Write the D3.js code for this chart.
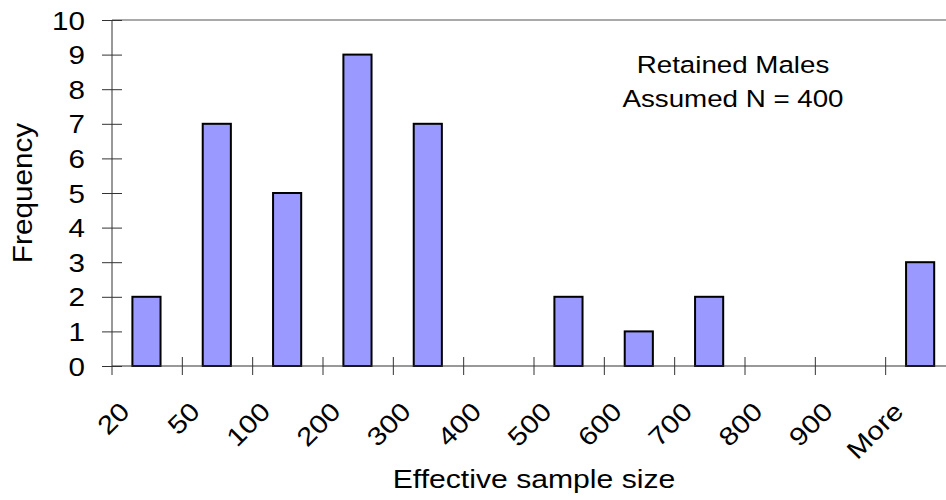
<!DOCTYPE html>
<html>
<head>
<meta charset="utf-8">
<script src="https://cdn.jsdelivr.net/npm/d3@7"></script>
<style>
  body { margin: 0; background: #fff; }
  svg { display: block; font-family: "Liberation Sans", Arial, sans-serif; }
</style>
</head>
<body>
<svg id="chart"></svg>
<script>
// histogram bins and counts
var bins = ["20", "50", "100", "200", "300", "400", "500", "600", "700", "800", "900", "More"];
var frequency = [2, 7, 5, 9, 7, 0, 2, 1, 2, 0, 0, 3];
var yTicks = [0, 1, 2, 3, 4, 5, 6, 7, 8, 9, 10];
var note = ["Retained Males", "Assumed N = 400"];

var width = 946, height = 500;
// plot area runs a little past the right edge, like the original
var margin = {top: 20, left: 112, plotRight: 956, bottom: 366};
var sx = 1.16; // the original font is a bit wider than Arial

var svg = d3.select("#chart").attr("width", width).attr("height", height);

var x = d3.scaleBand()
    .domain(bins)
    .range([margin.left, margin.plotRight])
    .padding(0);

var y = d3.scaleLinear()
    .domain([0, 10])
    .range([margin.bottom, margin.top]);

var data = bins.map(function(b, i) { return {bin: b, n: frequency[i]}; });

/* grey border on top of the plot area */
svg.append("line")
    .attr("x1", margin.left).attr("x2", margin.plotRight)
    .attr("y1", y(10)).attr("y2", y(10))
    .attr("stroke", "#8c8c8c").attr("stroke-width", 1.5);

/* bars */
svg.selectAll(".bar")
    .data(data)
    .enter()
    .append("rect")
    .attr("class", "bar")
    .attr("x", function(d) { return x(d.bin) + x.bandwidth() * 0.29; })
    .attr("width", x.bandwidth() * 0.4)
    .attr("y", function(d) { return y(d.n); })
    .attr("height", function(d) { return y(0) - y(d.n); })
    .attr("fill", "#9999ff")
    .attr("stroke", "#000")
    .attr("stroke-width", 2)
    .style("display", function(d) { return d.n > 0 ? null : "none"; });

/* y axis with crossing ticks */
var yAxis = svg.append("g")
    .attr("transform", "translate(" + margin.left + ",0)")
    .call(d3.axisLeft(y).tickValues(yTicks).tickFormat(d3.format("d")).tickSizeOuter(0));

yAxis.select(".domain").remove();
yAxis.selectAll(".tick line")
    .attr("x1", -10).attr("x2", 10)
    .attr("stroke", "#333");
yAxis.selectAll(".tick text")
    .attr("x", null).attr("dy", null)
    .attr("font-size", 25.5)
    .attr("fill", "#000")
    .attr("text-anchor", "end")
    .attr("transform", "translate(-27,9) scale(" + sx + ",1)");

svg.append("line")
    .attr("x1", margin.left).attr("x2", margin.left)
    .attr("y1", y(10)).attr("y2", y(0) + 9)
    .attr("stroke", "#333");

/* x axis: line, ticks between the bins, rotated labels */
svg.append("line")
    .attr("x1", margin.left).attr("x2", margin.plotRight)
    .attr("y1", y(0)).attr("y2", y(0))
    .attr("stroke", "#333");

var edges = bins.map(function(b) { return x(b); }).concat([margin.plotRight]);
svg.selectAll(".xtick")
    .data(edges.slice(1))
    .enter()
    .append("line")
    .attr("class", "xtick")
    .attr("x1", function(d) { return d; }).attr("x2", function(d) { return d; })
    .attr("y1", y(0) - 9).attr("y2", y(0) + 9)
    .attr("stroke", "#333");

svg.selectAll(".xlabel")
    .data(bins)
    .enter()
    .append("text")
    .attr("class", "xlabel")
    .attr("text-anchor", "end")
    .attr("font-size", 25.5)
    .attr("transform", function(d) {
      var cx = x(d) + x.bandwidth() / 2 - 16;
      return "translate(" + cx + "," + (y(0) + 47) + ") rotate(-45) scale(" + sx + ",1)";
    })
    .text(function(d) { return d; });

/* axis titles */
svg.append("text")
    .attr("text-anchor", "middle")
    .attr("font-size", 26)
    .attr("transform", "translate(" + ((margin.left + margin.plotRight) / 2) + ",488) scale(" + sx + ",1)")
    .text("Effective sample size");

svg.append("text")
    .attr("text-anchor", "middle")
    .attr("font-size", 27)
    .attr("transform", "translate(32," + ((margin.top + margin.bottom) / 2) + ") rotate(-90) scale(1.1,1)")
    .text("Frequency");

/* annotation */
svg.selectAll(".note")
    .data(note)
    .enter()
    .append("text")
    .attr("class", "note")
    .attr("text-anchor", "middle")
    .attr("font-size", 23.5)
    .attr("transform", function(d, i) {
      return "translate(733," + (73 + i * 34) + ") scale(1.18,1)";
    })
    .text(function(d) { return d; });
</script>
</body>
</html>
